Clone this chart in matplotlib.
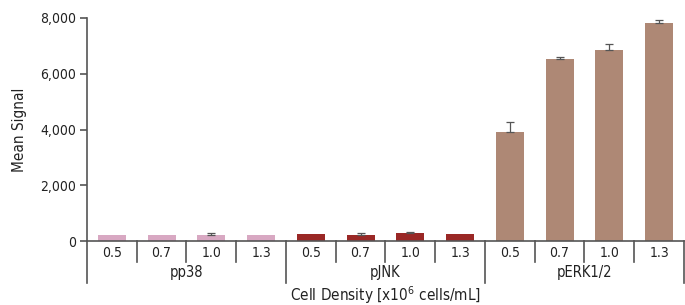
import matplotlib
matplotlib.use("Agg")
import matplotlib.pyplot as plt
import matplotlib.transforms as mtrans
from matplotlib.ticker import FuncFormatter

plt.rcParams["font.family"] = ["DejaVu Sans"]
plt.rcParams["font.stretch"] = "condensed"

# ── data ──────────────────────────────────────────────
groups = ["pp38", "pJNK", "pERK1/2"]
densities = ["0.5", "0.7", "1.0", "1.3"]
pp38_vals = [215, 215, 220, 215]
pp38_err = [0, 0, 60, 0]
pjnk_vals = [250, 200, 290, 250]
pjnk_err = [0, 90, 30, 0]
perk_vals = [3910, 6530, 6850, 7820]
perk_err = [360, 60, 205, 120]
colors = ["#D8A8C2", "#9A2826", "#AE8875"]

series = [(pp38_vals, pp38_err), (pjnk_vals, pjnk_err), (perk_vals, perk_err)]

fig = plt.figure(figsize=(6.85, 3.05), dpi=100)
ax = fig.add_axes([0.127, 0.2098, 0.8715, 0.7312])

LINE = "#555555"
TXT = "#222222"
n = len(densities)
for gi, (vals, errs) in enumerate(series):
    xs = [gi * n + i for i in range(n)]
    ax.bar(xs, vals, width=0.56, color=colors[gi], zorder=2)
    for x, v, e in zip(xs, vals, errs):
        if e > 0:
            ax.errorbar(x, v, yerr=[[0], [e]], fmt="none", ecolor="#555555",
                        elinewidth=0.9, capsize=3, capthick=0.9, zorder=3)

total = len(groups) * n
ax.set_xlim(-0.5, total - 0.5)
ax.set_ylim(0, 8000)
ax.set_yticks([0, 2000, 4000, 6000, 8000])
ax.yaxis.set_major_formatter(FuncFormatter(lambda v, p: f"{int(v):,}"))
ax.tick_params(axis="y", length=5, width=1.2, color=LINE, labelsize=10,
               labelcolor=TXT, pad=3)
ax.set_xticks([])

for s in ["top", "right"]:
    ax.spines[s].set_visible(False)
for s in ["left", "bottom"]:
    ax.spines[s].set_color(LINE)
    ax.spines[s].set_linewidth(1.2)

trans = mtrans.blended_transform_factory(ax.transData, ax.transAxes)
# category labels and small separators
for k in range(total):
    ax.text(k, -0.055, densities[k % n], transform=trans, ha="center", va="center",
            fontsize=10, color=TXT)
for k in range(1, total):
    if k % n == 0:
        continue
    ax.plot([k - 0.5, k - 0.5], [0, -0.095], transform=trans, color=LINE,
            lw=1.2, clip_on=False)
# group separators and labels
for g in range(len(groups) + 1):
    ax.plot([g * n - 0.5, g * n - 0.5], [0, -0.19], transform=trans, color=LINE,
            lw=1.2, clip_on=False)
for g, name in enumerate(groups):
    ax.text(g * n + (n - 1) / 2, -0.14, name, transform=trans, ha="center",
            va="center", fontsize=10.5, color=TXT)

ax.text(total / 2 - 0.5, -0.245, r"Cell Density [x10$^{6}$ cells/mL]", transform=trans,
        ha="center", va="center", fontsize=11, color=TXT)
ax.set_ylabel("Mean Signal", fontsize=11, color=TXT, labelpad=9)

fig.savefig("out.png", dpi=100, facecolor="white")
